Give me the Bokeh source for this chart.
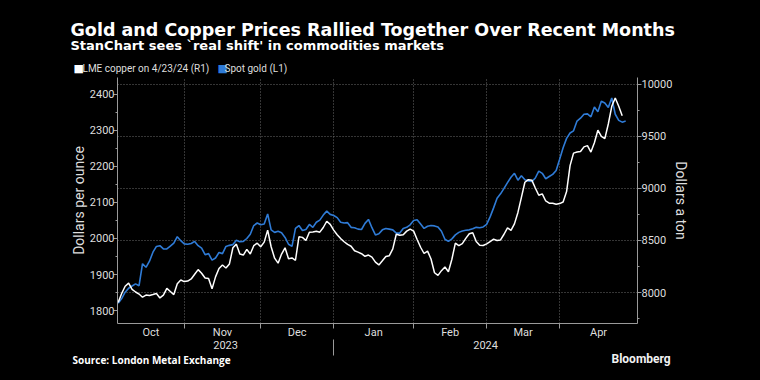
import numpy as np
import pandas as pd
from bokeh.plotting import figure
from bokeh.models import (Range1d, LinearAxis, FixedTicker, Grid, Title, ColumnDataSource)
from bokeh.embed import file_html
from bokeh.resources import INLINE

# ---------------- data ----------------
start_date = "2023-10-05"   # first trading day shown
gold = [1820, 1833, 1851, 1862, 1868, 1874, 1869, 1930, 1920, 1937,
        1962, 1978, 1980, 1971, 1971, 1979, 1987, 2005, 1994, 1985,
        1984, 1986, 1992, 1980, 1973, 1955, 1958, 1940, 1946, 1961,
        1958, 1978, 1981, 1983, 1995, 1991, 1992, 2000, 2012, 2036,
        2043, 2038, 2040, 2068, 2024, 2017, 2020, 2016, 2003, 1984,
        1978, 2028, 2036, 2022, 2025, 2039, 2031, 2045, 2051, 2065,
        2076, 2067, 2064, 2058, 2045, 2043, 2044, 2031, 2030, 2026,
        2025, 2042, 2053, 2030, 2010, 2013, 2024, 2028, 2026, 2024,
        2015, 2015, 2028, 2031, 2038, 2050, 2052, 2040, 2028, 2034,
        2036, 2035, 2032, 2020, 1998, 1992, 1999, 2010, 2017, 2021,
        2023, 2024, 2027, 2031, 2030, 2032, 2039, 2060, 2085, 2112,
        2124, 2139, 2155, 2170, 2181, 2162, 2174, 2163, 2160, 2158,
        2168, 2187, 2181, 2166, 2172, 2178, 2189, 2220, 2252, 2278,
        2293, 2299, 2326, 2334, 2345, 2346, 2338, 2365, 2352, 2381,
        2376, 2364, 2390, 2345, 2328, 2323, 2326]
copper = [7905, 7990, 8060, 8090, 8030, 8005, 7985, 7955, 7975, 7972,
          7980, 7990, 7948, 7975, 8040, 8010, 7980, 8085, 8120, 8105,
          8110, 8130, 8175, 8220, 8185, 8140, 8135, 8035, 8150, 8230,
          8265, 8235, 8275, 8430, 8465, 8370, 8360, 8415, 8370, 8450,
          8474, 8440, 8484, 8600, 8440, 8330, 8282, 8370, 8430, 8325,
          8332, 8310, 8535, 8530, 8500, 8580, 8582, 8588, 8580, 8625,
          8685, 8655, 8600, 8555, 8518, 8488, 8462, 8445, 8402, 8388,
          8373, 8348, 8360, 8340, 8292, 8265, 8305, 8346, 8354, 8420,
          8560, 8550, 8555, 8590, 8610, 8590, 8510, 8435, 8375, 8398,
          8322, 8190, 8165, 8210, 8245, 8200, 8320, 8475, 8450, 8470,
          8520, 8565, 8575, 8490, 8455, 8452, 8468, 8490, 8512, 8500,
          8505, 8560, 8622, 8598, 8660, 8770, 8915, 9060, 9085, 9080,
          9005, 8935, 8948, 8880, 8859, 8858, 8848, 8855, 8870, 8970,
          9220, 9340, 9350, 9355, 9400, 9412, 9350, 9440, 9560, 9500,
          9480, 9620, 9790, 9870, 9790, 9700]
month_labels = ["Oct", "Nov", "Dec", "Jan", "Feb", "Mar", "Apr"]
year_labels = ["2023", "2024"]
gold_ticks = [1800, 1900, 2000, 2100, 2200, 2300, 2400]
gold_minor = [1850, 1950, 2050, 2150, 2250, 2350]
copper_ticks = [8000, 8500, 9000, 9500, 10000]
copper_minor = [7750, 8250, 8750, 9250, 9750]

series_copper = "LME copper on 4/23/24 (R1)"
series_gold = "Spot gold (L1)"
title_text = "Gold and Copper Prices Rallied Together Over Recent Months"
subtitle_text = "StanChart sees `real shift' in commodities markets"
source_text = "Source: London Metal Exchange"
brand_text = "Bloomberg"

# ---------------- derived positions ----------------
dates = pd.bdate_range(start_date, periods=len(gold))
gold_src = ColumnDataSource(dict(x=np.arange(len(gold)), date=dates, y=gold))
copper_src = ColumnDataSource(dict(x=np.arange(len(copper)),
                                   date=dates[:len(copper)], y=copper))

X0, X1 = -0.2, 149.4
months = dates.month
boundaries = [i for i in range(1, len(dates)) if months[i] != months[i - 1]]
edges = [X0] + boundaries + [X1]
month_centers = [round((edges[k] + edges[k + 1]) / 2, 2) for k in range(len(edges) - 1)]
jan = [i for i in boundaries if dates[i].month == 1][0]
year_centers = [round((X0 + jan) / 2, 2), round((jan + X1) / 2, 2)]

BLUE = "#2f7bd6"
AX = "#9a9a9a"
TXT = "#dedede"
GRID = "#6a6a6a"

p = figure(width=760, height=380, output_backend="svg", toolbar_location=None, title=None,
           x_range=Range1d(X0, X1), y_range=Range1d(1764, 2447),
           x_axis_location=None, y_axis_location=None,
           min_border_left=117, min_border_right=123, min_border_top=77, min_border_bottom=57,
           background_fill_color="#000000", border_fill_color="#000000",
           outline_line_color=None)
p.extra_y_ranges = {"copper": Range1d(7702, 10067)}
p.center = [r for r in p.center if not isinstance(r, Grid)]


def style_axis(ax):
    ax.axis_line_color = AX
    ax.major_tick_line_color = AX
    ax.minor_tick_line_color = AX
    ax.major_label_text_font = "Roboto"
    ax.major_label_text_font_size = "11px"
    ax.major_label_text_color = TXT
    ax.axis_label_text_font = "Roboto"
    ax.axis_label_text_font_size = "14px"
    ax.axis_label_text_font_style = "normal"
    ax.axis_label_text_color = TXT


# left (gold)
la = LinearAxis(ticker=FixedTicker(ticks=gold_ticks, minor_ticks=gold_minor),
                axis_label="Dollars per ounce")
style_axis(la)
la.major_tick_out = 4
la.major_tick_in = 0
la.minor_tick_out = 2
la.minor_tick_in = 0
la.major_label_standoff = -1
la.axis_label_standoff = 0
p.add_layout(la, "left")

# right (copper)
ra = LinearAxis(y_range_name="copper",
                ticker=FixedTicker(ticks=copper_ticks, minor_ticks=copper_minor),
                axis_label="Dollars a ton")
style_axis(ra)
ra.major_tick_out = 4
ra.major_tick_in = 0
ra.minor_tick_out = 2
ra.minor_tick_in = 0
ra.major_label_standoff = 0
ra.axis_label_standoff = -2
p.add_layout(ra, "right")

# bottom: months
ma = LinearAxis(ticker=FixedTicker(ticks=month_centers, minor_ticks=boundaries),
                major_label_overrides={c: m for c, m in zip(month_centers, month_labels)})
style_axis(ma)
ma.major_tick_out = 0
ma.major_tick_in = 0
ma.minor_tick_out = 5
ma.minor_tick_in = 0
ma.major_label_standoff = -3
p.add_layout(ma, "below")

# bottom: years (minor tick = separator)
ya = LinearAxis(ticker=FixedTicker(ticks=year_centers, minor_ticks=[jan]),
                major_label_overrides={c: y for c, y in zip(year_centers, year_labels)})
style_axis(ya)
ya.axis_line_color = None
ya.major_tick_out = 0
ya.major_tick_in = 0
ya.minor_tick_out = 14
ya.minor_tick_in = 2
ya.major_label_standoff = -15
p.add_layout(ya, "below")


def title(text, place, offset, standoff, valign, font, size, color="#ffffff",
          style="bold"):
    p.add_layout(Title(text=text, align="left", offset=offset, standoff=standoff,
                       vertical_align=valign, text_font=font, text_font_size=size,
                       text_font_style=style, text_color=color), place)


# footer (below): spacer, source, brand
title(" ", "below", 0, -8, "middle", "Open Sans", "10px")
title(source_text, "below", -45, -16, "middle", "Open Sans", "10px")
title(brand_text, "below", 494, -16, "top", "Roboto", "12px", color="#f2f2f2")

# header (above, nearest first): spacer, legend entries, spacer, subtitle, title
title(" ", "above", 0, -7, "middle", "Open Sans", "10px")
title("\u25a0", "above", -44, -15, "middle", "DejaVu Sans", "11px", color="#ffffff",
      style="normal")
title(series_copper, "above", -35, -14, "middle", "Roboto", "10px", color=TXT,
      style="normal")
title("\u25a0", "above", 100, -15, "middle", "DejaVu Sans", "11px", color=BLUE,
      style="normal")
title(series_gold, "above", 107, -14, "middle", "Roboto", "10px", color=TXT,
      style="normal")
title(" ", "above", 0, 7, "middle", "Open Sans", "10px")
title(subtitle_text, "above", -47, -17, "middle", "DejaVu Sans", "13px")
title(title_text, "above", -47, 8, "top", "DejaVu Sans", "17.5px")

# grids
p.add_layout(Grid(dimension=1, y_range_name="copper", ticker=FixedTicker(ticks=copper_ticks),
                  grid_line_color=GRID, grid_line_dash="1 2", grid_line_width=1))
p.add_layout(Grid(dimension=0, ticker=FixedTicker(ticks=boundaries),
                  grid_line_color=GRID, grid_line_dash="1 2", grid_line_width=1))

# lines
p.line(x="x", y="y", source=gold_src, line_color=BLUE, line_width=1.6)
p.line(x="x", y="y", source=copper_src, y_range_name="copper", line_color="#ffffff",
       line_width=1.5)

html = file_html(p, INLINE)
k = html.rfind("</head>")
html = html[:k] + "<style>html, body { background-color: #000000; }</style>" + html[k:]
open("out.html", "w").write(html)
